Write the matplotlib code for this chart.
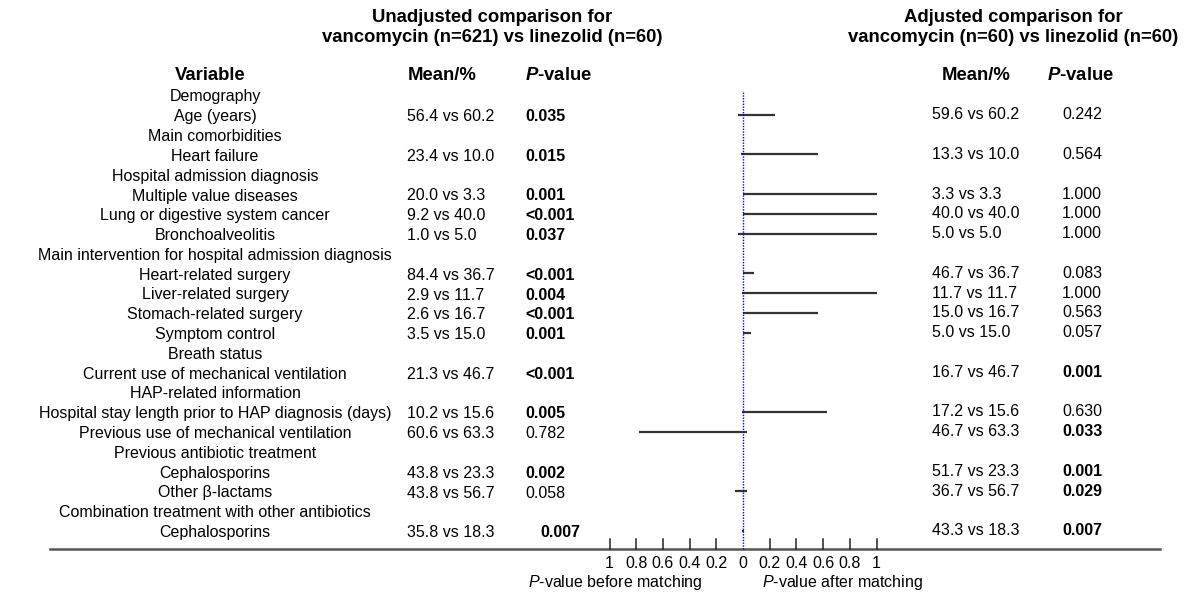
import matplotlib.pyplot as plt

plt.rcParams['font.family'] = ['Liberation Sans', 'DejaVu Sans']
plt.rcParams['mathtext.fontset'] = 'custom'
plt.rcParams['mathtext.it'] = 'Liberation Sans:italic'
plt.rcParams['mathtext.bfit'] = 'Liberation Sans:italic:bold'
plt.rcParams['mathtext.rm'] = 'Liberation Sans'

# rows of the table (category headers have no values)
labels = ["Demography", "Age (years)", "Main comorbidities", "Heart failure",
          "Hospital admission diagnosis", "Multiple value diseases",
          "Lung or digestive system cancer", "Bronchoalveolitis",
          "Main intervention for hospital admission diagnosis",
          "Heart-related surgery", "Liver-related surgery", "Stomach-related surgery",
          "Symptom control", "Breath status", "Current use of mechanical ventilation",
          "HAP-related information", "Hospital stay length prior to HAP diagnosis (days)",
          "Previous use of mechanical ventilation", "Previous antibiotic treatment",
          "Cephalosporins", "Other β-lactams",
          "Combination treatment with other antibiotics", "Cephalosporins"]

mean_before = [None, "56.4 vs 60.2", None, "23.4 vs 10.0", None, "20.0 vs 3.3",
               "9.2 vs 40.0", "1.0 vs 5.0", None, "84.4 vs 36.7", "2.9 vs 11.7",
               "2.6 vs 16.7", "3.5 vs 15.0", None, "21.3 vs 46.7", None,
               "10.2 vs 15.6", "60.6 vs 63.3", None, "43.8 vs 23.3", "43.8 vs 56.7",
               None, "35.8 vs 18.3"]
p_before = [None, "0.035", None, "0.015", None, "0.001", "<0.001", "0.037", None,
            "<0.001", "0.004", "<0.001", "0.001", None, "<0.001", None, "0.005",
            "0.782", None, "0.002", "0.058", None, "0.007"]

mean_after = [None, "59.6 vs 60.2", None, "13.3 vs 10.0", None, "3.3 vs 3.3",
              "40.0 vs 40.0", "5.0 vs 5.0", None, "46.7 vs 36.7", "11.7 vs 11.7",
              "15.0 vs 16.7", "5.0 vs 15.0", None, "16.7 vs 46.7", None,
              "17.2 vs 15.6", "46.7 vs 63.3", None, "51.7 vs 23.3", "36.7 vs 56.7",
              None, "43.3 vs 18.3"]
p_after = [None, "0.242", None, "0.564", None, "1.000", "1.000", "1.000", None,
           "0.083", "1.000", "0.563", "0.057", None, "0.001", None, "0.630",
           "0.033", None, "0.001", "0.029", None, "0.007"]

tick_vals = [-1, -0.8, -0.6, -0.4, -0.2, 0, 0.2, 0.4, 0.6, 0.8, 1]

# layout helpers: pixel -> data coords
X_ZERO, X_UNIT = 743, 133.5
Y0, DY = 97, 19.8


def px(x):
    return (x - X_ZERO) / X_UNIT


def py(y):
    return (y - Y0) / DY


def pnum(s):
    return 0.0005 if s.startswith("<") else float(s)


fig = plt.figure(figsize=(11.86, 5.93), dpi=100)
ax = fig.add_axes([0, 0, 1, 1])
ax.set_xlim(px(0), px(1186))
ax.set_ylim(py(593), py(0))
ax.axis('off')

BODY = 11.5
HEAD = 13.3

# titles
ax.text(px(492), py(17), "Unadjusted comparison for", ha='center', va='center',
        fontsize=HEAD, fontweight='bold')
ax.text(px(492), py(37), "vancomycin (n=621) vs linezolid (n=60)", ha='center',
        va='center', fontsize=HEAD, fontweight='bold')
ax.text(px(1013), py(17), "Adjusted comparison for", ha='center', va='center',
        fontsize=HEAD, fontweight='bold')
ax.text(px(1013), py(37), "vancomycin (n=60) vs linezolid (n=60)", ha='center',
        va='center', fontsize=HEAD, fontweight='bold')

# column headers
for x, t in [(210, "Variable"), (442, "Mean/%"), (559, r"$\mathbfit{P}$-value"),
             (976, "Mean/%"), (1081, r"$\mathbfit{P}$-value")]:
    ax.text(px(x), py(75), t, ha='center', va='center', fontsize=HEAD,
            fontweight='bold')

# table body + segments
for i, lab in enumerate(labels):
    ax.text(px(215), i, lab, ha='center', va='center', fontsize=BODY)
    if mean_before[i] is None:
        continue
    ax.text(px(407), i, mean_before[i], ha='left', va='center', fontsize=BODY)
    xb = 540 if i == len(labels) - 1 else 525
    ax.text(px(xb), i, p_before[i], ha='left', va='center', fontsize=BODY,
            fontweight='bold' if pnum(p_before[i]) < 0.05 else 'normal')
    ax.text(px(932), i - 0.1, mean_after[i], ha='left', va='center', fontsize=BODY)
    ax.text(px(1062), i - 0.1, p_after[i], ha='left', va='center', fontsize=BODY,
            fontweight='bold' if pnum(p_after[i]) < 0.05 else 'normal')
    ax.hlines(i - 0.1, -pnum(p_before[i]), pnum(p_after[i]), color='#333333',
              lw=1.6)

# reference line at zero
axis_y = py(549)
ax.plot([0, 0], [py(92), axis_y], color='blue', lw=1, ls=(0, (1, 1)), zorder=3)

# bottom axis
ax.plot([px(50), px(1160)], [axis_y, axis_y], color='#555555', lw=1.8)
for t in tick_vals:
    if t != 0:
        ax.plot([t, t], [py(539), axis_y], color='#222222', lw=1.1)
    ax.text(t, py(563), f"{abs(t):g}", ha='center', va='center', fontsize=BODY)

ax.text(px(615), py(583), r"$\mathit{P}$-value before matching", ha='center',
        va='center', fontsize=BODY)
ax.text(px(842), py(583), r"$\mathit{P}$-value after matching", ha='center',
        va='center', fontsize=BODY)

fig.savefig('out.png', dpi=100)
